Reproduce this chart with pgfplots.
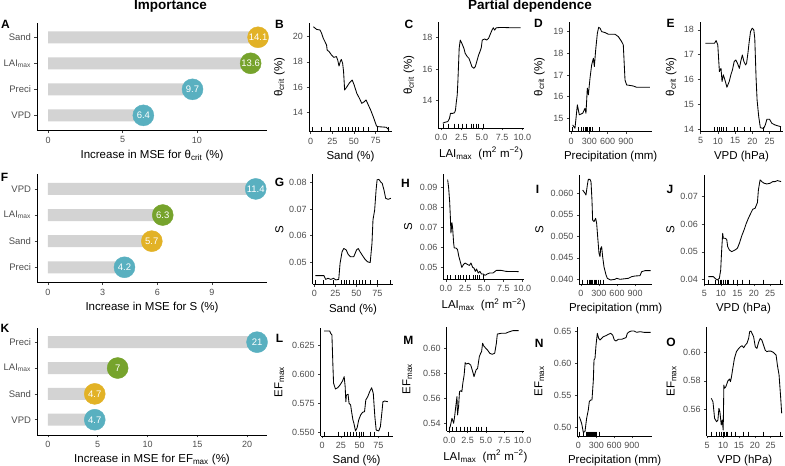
\documentclass[border=0pt]{standalone}
\usepackage{fontspec}
\setmainfont{Liberation Sans}
\usepackage{pgfplots}
\pgfplotsset{compat=1.18}
\definecolor{cteal}{RGB}{89,176,192}
\definecolor{cyel}{RGB}{226,178,38}
\definecolor{cgrn}{RGB}{118,163,44}
\definecolor{cbar}{RGB}{211,211,211}
\definecolor{tickgray}{RGB}{77,77,77}
\pgfplotsset{
  base/.style={scale only axis, anchor=south west, axis lines*=left,
    axis line style={line width=0.55pt, black, -},
    tick align=outside, major tick length=2.5pt,
    every tick/.style={line width=0.5pt, black!75},
    tick label style={font=\fontsize{9}{10}\selectfont, text=tickgray},
    label style={font=\fontsize{11.5}{13}\selectfont, text=black},
    scaled y ticks=false, scaled x ticks=false,
    clip=false},
  ylx/.style={ylabel style={at={(axis description cs:#1,0.5)}, anchor=center}},
  pline/.style={black, line width=0.85pt, mark=none, line join=round},
  rug/.style={only marks, mark=|, mark size=2.2pt, black, mark options={yshift=2.2pt, line width=0.45pt}},
  bars/.style={xbar, bar width=12pt, fill=cbar, draw=none},
  dots/.style={only marks, color=#1, mark=*, mark size=10.5pt, mark options={draw=#1, fill=#1},
    point meta=explicit symbolic, nodes near coords,
    every node near coord/.append style={anchor=center, text=white, font=\fontsize{9.5}{10}\selectfont}},
  sandx/.style={xmin=-2, xmax=94, xtick={0,25,50,75}, xticklabels={0,25,50,75}, xlabel={Sand (\%)}},
  laix/.style={xmin=-0.35, xmax=10.2, xtick={0,2.5,5,7.5,10}, xticklabels={0.0,2.5,5.0,7.5,10.0}, xlabel={LAI\textsubscript{max}\ \ (m\textsuperscript{2} m\textsuperscript{−2})}},
  vpdx/.style={xmin=4.85, xmax=28.9, xtick={5,10,15,20,25}, xticklabels={5,10,15,20,25}, xlabel={VPD (hPa)}},
  imp/.style={base, width=230pt, ymin=0.41, ymax=4.56, ytick={1,2,3,4}, y tick label style={font=\fontsize{9.5}{10}\selectfont}},
}
\begin{document}
\begin{tikzpicture}
\useasboundingbox (0,0) rectangle (785pt,466pt);
% titles
\node[font=\bfseries\fontsize{13.5}{14}\selectfont] at (170.5pt,460pt) {Importance};
\node[font=\bfseries\fontsize{13.5}{14}\selectfont] at (530pt,460pt) {Partial dependence};

% ---------------- A
\begin{axis}[imp, at={(37pt,335.3pt)}, height=108pt, xmin=-0.74, xmax=14.7,
  xtick={0,5,10}, xticklabels={0,5,10},
  yticklabels={VPD,Preci,LAI\textsubscript{max},Sand},
  xlabel={Increase in MSE for θ\textsubscript{crit} (\%)}]
\addplot[bars] coordinates {(6.4,1) (9.7,2) (13.6,3) (14.1,4)};
\addplot[dots=cteal] coordinates {(6.4,1) [6.4] (9.7,2) [9.7]};
\addplot[dots=cgrn] coordinates {(13.6,3) [13.6]};
\addplot[dots=cyel] coordinates {(14.1,4) [14.1]};
\end{axis}

% ---------------- F
\begin{axis}[imp, at={(37pt,183.3pt)}, height=108.4pt, xmin=-0.6, xmax=12.02,
  xtick={0,3,6,9}, xticklabels={0,3,6,9},
  yticklabels={Preci,Sand,LAI\textsubscript{max},VPD},
  xlabel={Increase in MSE for S (\%)}]
\addplot[bars] coordinates {(4.2,1) (5.7,2) (6.3,3) (11.4,4)};
\addplot[dots=cteal] coordinates {(4.2,1) [4.2] (11.4,4) [11.4]};
\addplot[dots=cgrn] coordinates {(6.3,3) [6.3]};
\addplot[dots=cyel] coordinates {(5.7,2) [5.7]};
\end{axis}

% ---------------- K
\begin{axis}[imp, at={(37pt,31pt)}, height=107.3pt, xmin=-1.1, xmax=22.0,
  xtick={0,5,10,15,20}, xticklabels={0,5,10,15,20},
  yticklabels={VPD,Sand,LAI\textsubscript{max},Preci},
  xlabel={Increase in MSE for EF\textsubscript{max} (\%)}]
\addplot[bars] coordinates {(4.7,1) (4.7,2) (7,3) (21,4)};
\addplot[dots=cteal] coordinates {(4.7,1) [4.7] (21,4) [21]};
\addplot[dots=cgrn] coordinates {(7,3) [7]};
\addplot[dots=cyel] coordinates {(4.7,2) [4.7]};
\end{axis}

% ---------------- B
\begin{axis}[base, sandx, ylx=-0.358, at={(309pt,334.3pt)}, width=83pt, height=109pt,
  ymin=12.46, ymax=21.11, ytick={14,16,18,20}, yticklabels={14,16,18,20},
  ylabel={θ\textsubscript{crit} (\%)}]
\addplot[pline] coordinates {(3.0,20.79) (6.8,20.58) (10.7,20.53) (12.6,20.27) (14.5,19.87) (16.4,19.61) (18.3,19.34) (19.0,18.94) (21.3,18.81) (24.0,18.55) (26.6,18.36) (29.7,18.42) (31.2,18.15) (32.7,17.67) (34.2,18.02) (35.4,18.2) (36.9,17.89) (38.0,17.22) (39.2,15.77) (41.9,16.03) (44.9,16.35) (48.0,16.56) (50.2,16.17) (53.3,15.5) (56.4,15.1) (59.0,14.71) (62.0,14.84) (64.0,14.98) (66.6,14.58) (69.3,14.18) (72.3,13.65) (76.1,12.91) (78.0,12.86) (87.5,12.81) (90.5,12.6)};
\addplot[rug] coordinates {(2,12.46) (12,12.46) (23,12.46) (32,12.46) (36,12.46) (40,12.46) (43,12.46) (48,12.46) (52,12.46) (55,12.46) (61,12.46) (66,12.46) (77,12.46) (90,12.46)};
\end{axis}

% ---------------- C
\begin{axis}[base, laix, ylx=-0.342, at={(438.3pt,338pt)}, width=85.7pt, height=105.7pt,
  ymin=12.21, ymax=18.99, ytick={14,16,18}, yticklabels={14,16,18},
  ylabel={θ\textsubscript{crit} (\%)}]
\addplot[pline] coordinates {(0.21,12.51) (0.41,12.57) (0.82,12.62) (1.03,12.83) (1.15,13.15) (1.44,13.15) (1.65,13.19) (1.77,13.37) (1.85,13.79) (1.98,14.33) (2.06,15.18) (2.14,16.25) (2.22,17.32) (2.35,17.85) (2.55,17.64) (2.80,17.32) (2.96,17.0) (3.21,16.79) (3.42,16.68) (3.58,16.46) (3.79,16.14) (4.03,16.04) (4.2,16.14) (4.44,16.57) (4.61,16.89) (4.77,17.1) (4.94,17.36) (5.06,17.85) (5.35,17.92) (5.60,17.85) (5.84,17.96) (6.09,18.28) (6.26,18.49) (6.42,18.64) (6.58,18.49) (6.79,18.64) (7.41,18.66) (8.64,18.64) (9.79,18.64)};
\addplot[rug] coordinates {(0.3,12.21) (0.9,12.21) (1.6,12.21) (2.1,12.21) (2.6,12.21) (3.1,12.21) (3.7,12.21) (4.0,12.21) (4.3,12.21) (4.6,12.21) (5.2,12.21)};
\end{axis}

% ---------------- D
\begin{axis}[base, ylx=-0.363, at={(569.3pt,334.3pt)}, width=82.7pt, height=110pt,
  xmin=-28, xmax=1326, xtick={0,300,600,900}, xticklabels={0,300,600,900}, xlabel={Precipitation (mm)},
  ymin=14.38, ymax=19.46, ytick={15,16,17,18,19}, yticklabels={15,16,17,18,19},
  ylabel={θ\textsubscript{crit} (\%)}]
\addplot[pline] coordinates {(27,14.69) (65,14.54) (104,15.62) (136,15.16) (191,15.23) (229,15.46) (245,15.23) (267,16.39) (284,16.08) (311,16.85) (338,17.46) (366,17.77) (382,17.39) (404,18.16) (431,18.92) (453,19.2) (475,19.16) (502,19.0) (556,18.96) (611,18.88) (720,18.88) (775,18.77) (829,18.54) (856,18.39) (884,16.77) (911,16.54) (1020,16.49) (1075,16.43) (1293,16.43)};
\addplot[rug] coordinates {(20,14.38) (120,14.38) (170,14.38) (200,14.38) (230,14.38) (250,14.38) (270,14.38) (290,14.38) (310,14.38) (340,14.38) (460,14.38)};
\end{axis}

% ---------------- E
\begin{axis}[base, vpdx, ylx=-0.349, at={(700pt,334.3pt)}, width=83pt, height=110pt,
  ymin=13.90, ymax=18.33, ytick={14,15,16,17,18}, yticklabels={14,15,16,17,18},
  ylabel={θ\textsubscript{crit} (\%)}]
\addplot[pline] coordinates {(6.38,17.46) (9.04,17.46) (9.52,17.57) (10.0,17.40) (10.47,16.32) (10.94,16.45) (11.23,15.92) (11.61,16.19) (12.08,15.98) (12.65,15.69) (13.31,15.92) (13.79,16.19) (14.26,16.39) (14.74,16.72) (15.21,16.79) (15.69,16.66) (16.26,16.45) (16.64,16.72) (17.11,16.99) (17.59,16.72) (18.06,16.59) (18.35,16.66) (18.73,17.06) (19.11,17.53) (19.49,17.93) (19.96,18.07) (20.44,18.0) (20.72,17.66) (21.1,16.05) (21.39,15.18) (21.86,14.51) (22.34,14.06) (23.29,14.03) (23.76,14.17) (24.24,14.4) (25.0,14.4) (25.66,14.24) (26.61,14.17) (27.56,14.13) (28.32,14.1)};
\addplot[rug] coordinates {(9.0,13.9) (9.8,13.9) (10.5,13.9) (10.9,13.9) (11.7,13.9) (12.4,13.9) (14.7,13.9) (15.7,13.9) (17.6,13.9) (19.5,13.9) (23.3,13.9) (28,13.9)};
\end{axis}

% ---------------- G
\begin{axis}[base, sandx, ylx=-0.414, at={(312.7pt,181.5pt)}, width=80.6pt, height=110.5pt,
  ymin=0.04168, ymax=0.0831, ytick={0.05,0.06,0.07,0.08}, yticklabels={0.05,0.06,0.07,0.08},
  ylabel={S}]
\addplot[pline] coordinates {(1.2,0.0450) (11.4,0.0450) (13.4,0.0436) (16.3,0.0440) (19.6,0.0436) (22.8,0.0440) (25.7,0.0434) (29.0,0.0436) (30.6,0.0496) (33.0,0.0540) (35.1,0.0552) (38.0,0.0546) (40.0,0.0531) (42.9,0.0521) (46.9,0.0521) (50.2,0.0546) (52.2,0.0552) (54.3,0.0540) (57.6,0.0524) (60.4,0.0511) (63.3,0.0502) (66.5,0.0499) (68.6,0.0571) (69.8,0.0659) (71.8,0.0696) (73.5,0.0771) (74.7,0.0809) (76.8,0.0811) (78.8,0.0802) (80.8,0.0796) (82.9,0.0771) (84.9,0.0740) (87.8,0.0736) (91.1,0.0740)};
\addplot[rug] coordinates {(1,0.04168) (10,0.04168) (23,0.04168) (32,0.04168) (35,0.04168) (38,0.04168) (42,0.04168) (46,0.04168) (50,0.04168) (53,0.04168) (57,0.04168) (60,0.04168) (66,0.04168) (75,0.04168) (90,0.04168)};
\end{axis}

% ---------------- H
\begin{axis}[base, laix, ylx=-0.434, at={(443.3pt,186.5pt)}, width=80.7pt, height=105pt,
  ymin=0.04375, ymax=0.0963, ytick={0.05,0.06,0.07,0.08,0.09}, yticklabels={0.05,0.06,0.07,0.08,0.09},
  ylabel={S}]
\addplot[pline] coordinates {(0.22,0.0937) (0.35,0.0895) (0.48,0.0828) (0.57,0.0753) (0.65,0.0670) (0.78,0.0722) (0.87,0.0695) (1.0,0.0620) (1.08,0.0595) (1.3,0.0595) (1.51,0.0587) (1.68,0.0553) (1.86,0.0528) (2.07,0.0498) (2.28,0.0512) (2.5,0.0520) (2.84,0.0512) (3.06,0.0508) (3.27,0.0520) (3.49,0.0498) (3.66,0.0495) (3.83,0.0478) (4.0,0.0490) (4.22,0.0470) (4.43,0.0478) (4.65,0.0465) (4.86,0.0465) (5.12,0.0458) (5.38,0.0465) (5.72,0.0470) (6.15,0.0470) (6.58,0.0483) (7.23,0.0483) (7.87,0.0478) (9.5,0.0477)};
\addplot[rug] coordinates {(0.1,0.04375) (0.6,0.04375) (1.2,0.04375) (1.6,0.04375) (1.9,0.04375) (2.3,0.04375) (2.6,0.04375) (3.1,0.04375) (3.5,0.04375) (3.8,0.04375) (4.1,0.04375) (4.4,0.04375) (4.9,0.04375)};
\end{axis}

% ---------------- I
\begin{axis}[base, ylx=-0.55, at={(579.3pt,182pt)}, width=72.7pt, height=109pt,
  xmin=-28, xmax=1183, xtick={0,300,600,900}, xticklabels={0,300,600,900}, xlabel={Precipitation (mm)},
  ymin=0.03891, ymax=0.06426, ytick={0.04,0.045,0.05,0.055,0.06}, yticklabels={0.040,0.045,0.050,0.055,0.060},
  ylabel={S}]
\addplot[pline] coordinates {(28,0.06077) (67,0.0600) (83,0.0596) (106,0.06193) (122,0.06325) (150,0.06325) (167,0.0627) (183,0.05844) (194,0.05379) (217,0.0534) (244,0.05418) (261,0.05302) (278,0.04991) (300,0.04605) (317,0.04526) (328,0.0472) (344,0.04759) (361,0.04526) (383,0.04294) (417,0.041) (439,0.04023) (494,0.03984) (567,0.0400) (594,0.04023) (650,0.0400) (789,0.04023) (844,0.04062) (900,0.04077) (983,0.04085) (1011,0.04178) (1067,0.04201) (1161,0.04201)};
\addplot[rug] coordinates {(28,0.03891) (106,0.03891) (140,0.03891) (161,0.03891) (178,0.03891) (194,0.03891) (217,0.03891) (233,0.03891) (261,0.03891) (289,0.03891) (317,0.03891) (372,0.03891)};
\end{axis}

% ---------------- J
\begin{axis}[base, vpdx, ylx=-0.424, at={(704pt,182pt)}, width=79pt, height=109pt,
  ymin=0.03829, ymax=0.0779, ytick={0.04,0.05,0.06,0.07}, yticklabels={0.04,0.05,0.06,0.07},
  ylabel={S}]
\addplot[pline] coordinates {(6.17,0.04096) (7.69,0.04096) (8.2,0.04035) (8.91,0.03975) (9.52,0.04035) (9.93,0.04338) (10.23,0.05065) (10.54,0.05671) (10.74,0.0549) (11.25,0.0549) (11.76,0.05453) (12.06,0.05187) (12.57,0.05065) (13.28,0.05005) (14.3,0.05065) (15.01,0.05126) (15.62,0.05308) (16.33,0.05575) (17.04,0.05793) (17.65,0.06011) (18.36,0.06217) (19.08,0.06399) (19.69,0.06544) (20.4,0.06581) (21.11,0.06787) (21.41,0.07247) (21.92,0.07611) (22.43,0.0755) (23.14,0.0749) (23.95,0.07465) (24.97,0.0749) (25.78,0.0755) (26.49,0.0755) (27.2,0.07587) (28.32,0.0755)};
\addplot[rug] coordinates {(6.2,0.03829) (8.2,0.03829) (9.2,0.03829) (9.7,0.03829) (10.2,0.03829) (10.7,0.03829) (11.3,0.03829) (11.8,0.03829) (12.3,0.03829) (13.8,0.03829) (15,0.03829) (16.6,0.03829) (18.7,0.03829) (23,0.03829) (28,0.03829)};
\end{axis}

% ---------------- L
\begin{axis}[base, sandx, ylx=-0.577, at={(320.7pt,30pt)}, width=71.8pt, height=108.3pt,
  ymin=0.54716, ymax=0.6405, ytick={0.55,0.575,0.6,0.625}, yticklabels={0.550,0.575,0.600,0.625},
  ylabel={EF\textsubscript{max}}]
\addplot[pline] coordinates {(2.6,0.6377) (10.0,0.6377) (11.3,0.6357) (13.0,0.6342) (14.3,0.6084) (15.2,0.5926) (17.7,0.5877) (20.8,0.5888) (23.8,0.5911) (27.2,0.5946) (29.4,0.5983) (30.7,0.5897) (31.6,0.5767) (32.4,0.5825) (34.6,0.5831) (35.9,0.5753) (38.0,0.5739) (39.3,0.5681) (41.1,0.5609) (42.4,0.5581) (44.5,0.5515) (46.7,0.5543) (48.8,0.5609) (51.4,0.5653) (54.0,0.5676) (56.6,0.5681) (58.3,0.5782) (60.9,0.5811) (63.5,0.5854) (66.1,0.5888) (68.3,0.5839) (70.4,0.5638) (72.2,0.5523) (75.6,0.5515) (77.8,0.5552) (79.9,0.5681) (81.2,0.5767) (83.4,0.5773) (87.7,0.5767)};
\addplot[rug] coordinates {(2.6,0.54716) (22,0.54716) (29,0.54716) (34,0.54716) (37,0.54716) (41,0.54716) (45,0.54716) (49,0.54716) (52,0.54716) (55,0.54716) (64,0.54716) (70,0.54716) (88,0.54716)};
\end{axis}

% ---------------- M
\begin{axis}[base, laix, ylx=-0.51, at={(446.7pt,35pt)}, width=77.3pt, height=103.7pt,
  ymin=0.5338, ymax=0.6168, ytick={0.54,0.56,0.58,0.60}, yticklabels={0.54,0.56,0.58,0.60},
  ylabel={EF\textsubscript{max}}]
\addplot[pline] coordinates {(0.0,0.5352) (0.15,0.5378) (0.37,0.5440) (0.6,0.54) (0.73,0.5453) (0.91,0.5546) (1.05,0.5613) (1.13,0.5466) (1.27,0.5533) (1.4,0.5653) (1.58,0.5661) (1.72,0.5653) (1.85,0.5720) (2.03,0.5786) (2.17,0.5885) (2.3,0.5874) (2.62,0.5880) (2.93,0.5866) (3.2,0.5813) (3.38,0.5773) (3.65,0.5826) (3.87,0.5840) (4.1,0.5933) (4.28,0.5960) (4.41,0.5973) (4.55,0.6040) (4.72,0.6018) (4.99,0.6) (5.22,0.5986) (5.53,0.5960) (5.85,0.5952) (6.2,0.5960) (6.43,0.6040) (6.56,0.6114) (7.1,0.6120) (7.69,0.6120) (8.0,0.6128) (8.67,0.6141) (9.48,0.6141)};
\addplot[rug] coordinates {(0.05,0.5338) (0.37,0.5338) (0.95,0.5338) (1.5,0.5338) (2.0,0.5338) (2.4,0.5338) (2.8,0.5338) (3.65,0.5338) (4.0,0.5338) (4.3,0.5338) (5.0,0.5338)};
\end{axis}

% ---------------- N
\begin{axis}[base, ylx=-0.509, at={(577.3pt,30pt)}, width=74.7pt, height=109.3pt,
  xmin=-20, xmax=1237, xtick={0,300,600,900}, xticklabels={0,300,600,900}, xlabel={Precipitation (mm)},
  ymin=0.487, ymax=0.6578, ytick={0.5,0.55,0.6,0.65}, yticklabels={0.50,0.55,0.60,0.65},
  ylabel={EF\textsubscript{max}}]
\addplot[pline] coordinates {(14,0.5172) (53,0.5068) (81,0.4928) (109,0.4938) (137,0.5146) (165,0.5277) (182,0.5407) (205,0.5433) (227,0.5433) (250,0.5745) (261,0.6058) (278,0.6084) (295,0.6292) (317,0.6474) (340,0.6396) (362,0.6370) (390,0.6396) (418,0.6422) (463,0.6438) (502,0.6459) (542,0.6474) (575,0.6448) (603,0.6370) (631,0.6355) (671,0.6381) (727,0.6381) (766,0.6396) (800,0.6407) (822,0.6474) (856,0.65) (895,0.6511) (934,0.6511) (979,0.649) (1035,0.65) (1103,0.649) (1215,0.649)};
\addplot[rug] coordinates {(14,0.487) (81,0.487) (126,0.487) (149,0.487) (165,0.487) (182,0.487) (205,0.487) (222,0.487) (238,0.487) (250,0.487) (267,0.487) (284,0.487) (306,0.487) (351,0.487)};
\end{axis}

% ---------------- O
\begin{axis}[base, vpdx, ylx=-0.461, at={(706.7pt,30pt)}, width=76.3pt, height=109.3pt,
  ymin=0.5409, ymax=0.6184, ytick={0.56,0.58,0.60}, yticklabels={0.56,0.58,0.60},
  ylabel={EF\textsubscript{max}}]
\addplot[pline] coordinates {(6.30,0.5676) (6.82,0.5652) (7.34,0.5534) (7.97,0.5510) (8.38,0.5522) (8.70,0.5605) (9.01,0.5581) (9.43,0.5487) (9.74,0.5522) (10.05,0.5451) (10.26,0.5770) (10.47,0.5747) (10.88,0.5758) (11.51,0.5799) (12.03,0.5813) (12.34,0.5794) (12.66,0.5829) (13.07,0.5888) (13.59,0.5959) (14.22,0.6007) (14.95,0.6030) (15.47,0.6042) (15.99,0.6049) (16.51,0.6035) (17.03,0.6054) (17.55,0.6066) (18.07,0.6101) (18.38,0.6148) (18.80,0.6153) (19.12,0.6137) (19.63,0.6113) (20.16,0.6042) (20.68,0.6030) (21.2,0.6073) (21.72,0.6101) (22.24,0.6089) (22.76,0.6054) (23.28,0.6018) (23.8,0.6007) (24.32,0.6011) (25.05,0.6011) (25.88,0.6002) (26.72,0.5983) (27.13,0.5912) (27.66,0.5841) (28.18,0.5676) (28.49,0.5569)};
\addplot[rug] coordinates {(6.3,0.5409) (8,0.5409) (8.7,0.5409) (9.4,0.5409) (10,0.5409) (10.5,0.5409) (10.9,0.5409) (11.3,0.5409) (12.7,0.5409) (13.9,0.5409) (16.5,0.5409) (18,0.5409) (22.8,0.5409) (28,0.5409)};
\end{axis}

% panel letters
\begin{scope}[every node/.style={font=\bfseries\fontsize{12}{13}\selectfont}]
\node at (5.5pt,441.5pt) {A};
\node at (279.5pt,442pt) {B};
\node at (409pt,442pt) {C};
\node at (538.5pt,442.7pt) {D};
\node at (670.7pt,442.7pt) {E};
\node at (4.5pt,289pt) {F};
\node at (279.5pt,284pt) {G};
\node at (405.5pt,282.3pt) {H};
\node at (537.5pt,277pt) {I};
\node at (670pt,276.5pt) {J};
\node at (5pt,137.5pt) {K};
\node at (279.5pt,128pt) {L};
\node at (408.3pt,126pt) {M};
\node at (539.3pt,122.7pt) {N};
\node at (671pt,123.3pt) {O};
\end{scope}
\end{tikzpicture}
\end{document}
